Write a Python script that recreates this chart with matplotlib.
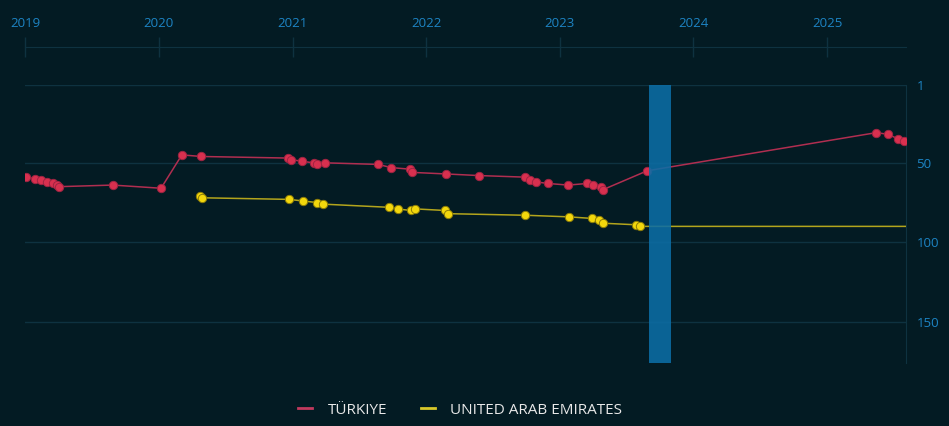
import matplotlib
matplotlib.use("Agg")
import matplotlib.pyplot as plt
import matplotlib.dates as mdates
from matplotlib.lines import Line2D
import pandas as pd

# ---- data ----
tr_dates = ["2019-01-03", "2019-01-27", "2019-02-13", "2019-02-28", "2019-03-19",
            "2019-03-28", "2019-04-04", "2019-08-28", "2020-01-07", "2020-03-04",
            "2020-04-26", "2020-12-20", "2020-12-28", "2021-01-26", "2021-02-27",
            "2021-03-08", "2021-03-31", "2021-08-23", "2021-09-27", "2021-11-18",
            "2021-11-23", "2022-02-24", "2022-05-24", "2022-09-27", "2022-10-12",
            "2022-10-28", "2022-11-30", "2023-01-24", "2023-03-17", "2023-04-01",
            "2023-04-24", "2023-04-28", "2023-08-28", "2025-05-15", "2025-06-16",
            "2025-07-14", "2025-07-31"]
tr_rank = [59, 60, 61, 62, 63, 64, 65, 64, 66, 45,
           46, 47, 48, 49, 50, 51, 50, 51, 53, 54,
           56, 57, 58, 59, 61, 62, 63, 64, 63, 64,
           65, 67, 55, 31, 32, 35, 36]

uae_dates = ["2020-04-23", "2020-04-27", "2020-12-21", "2021-01-29", "2021-03-08",
             "2021-03-25", "2021-09-21", "2021-10-15", "2021-11-19", "2021-12-02",
             "2022-02-22", "2022-03-01", "2022-09-29", "2023-01-25", "2023-03-30",
             "2023-04-17", "2023-04-28", "2023-07-29", "2023-08-09"]
uae_rank = [71, 72, 73, 74, 75, 76, 78, 79, 80, 79,
            80, 82, 83, 84, 85, 86, 88, 89, 90]
uae_extend_to = "2025-08-03"

band_start, band_end = "2023-09-01", "2023-10-31"
x_start, x_end = "2019-01-01", "2025-08-03"
year_ticks = [2019, 2020, 2021, 2022, 2023, 2024, 2025]
y_ticks = [1, 50, 100, 150]
y_bottom, y_top = 176.2, 1

series_names = ["TÜRKIYE", "UNITED ARAB EMIRATES"]

# ---- style ----
BG = "#031b23"
GRID = "#0e3240"
TICKC = "#1d84c4"
TR_C = "#d8304f"
TR_LINE = "#b02e50"
UAE_C = "#f3d70c"
UAE_LINE = "#b3a51c"
BAND_C = "#0c6ea6"

plt.rcParams['font.family'] = ['Open Sans', 'DejaVu Sans']

fig = plt.figure(figsize=(9.49, 4.26), dpi=100, facecolor=BG)
ax = fig.add_axes([25.3 / 949, 1 - 363.3 / 426, (905.5 - 25.3) / 949, (363.3 - 85) / 426])
ax.set_facecolor(BG)

trd = pd.to_datetime(tr_dates)
uad = pd.to_datetime(uae_dates)

ax.plot(trd, tr_rank, color=TR_LINE, lw=1.1, zorder=3)
ax.plot(trd, tr_rank, ls="none", marker="o", ms=6, mfc=TR_C, mec="#9e2442", mew=0.7, zorder=4)

ux = list(uad) + [pd.to_datetime(uae_extend_to)]
uy = list(uae_rank) + [uae_rank[-1]]
ax.plot(ux, uy, color=UAE_LINE, lw=1.1, zorder=3)
ax.plot(uad, uae_rank, ls="none", marker="o", ms=6, mfc=UAE_C, mec="#8c7c08", mew=0.7, zorder=4)

ax.axvspan(pd.to_datetime(band_start), pd.to_datetime(band_end), color=BAND_C, alpha=0.88, lw=0, zorder=5)

ax.set_xlim(pd.to_datetime(x_start), pd.to_datetime(x_end))
ax.set_ylim(y_bottom, y_top)

# y axis on the right
ax.yaxis.tick_right()
ax.set_yticks(y_ticks)
ax.tick_params(axis="y", length=0, pad=8, labelcolor=TICKC, labelsize=9.5)
ax.grid(axis="y", color=GRID, lw=1)
ax.grid(axis="x", visible=False)

# x axis on top, offset
ax.xaxis.tick_top()
ax.set_xticks([pd.Timestamp(f"{y}-01-01") for y in year_ticks])
ax.set_xticklabels([str(y) for y in year_ticks])
ax.tick_params(axis="x", direction="inout", length=14, width=1, color=GRID,
               pad=5, labelcolor=TICKC, labelsize=9.5)
ax.spines["top"].set_position(("outward", 27.5))
ax.spines["top"].set_color(GRID)
ax.spines["right"].set_color(GRID)
ax.spines["left"].set_visible(False)
ax.spines["bottom"].set_visible(False)

handles = [Line2D([0], [0], color="#c23a5e", lw=2),
           Line2D([0], [0], color="#d8c82a", lw=2)]
fig.legend(handles, series_names, loc="center", bbox_to_anchor=(460 / 949, 1 - 410 / 426),
           ncol=2, frameon=False, fontsize=11, labelcolor="#e8e8e8",
           handlelength=0.95, handletextpad=1.0, columnspacing=2.2)

fig.savefig("out.png", dpi=100, facecolor=BG)
